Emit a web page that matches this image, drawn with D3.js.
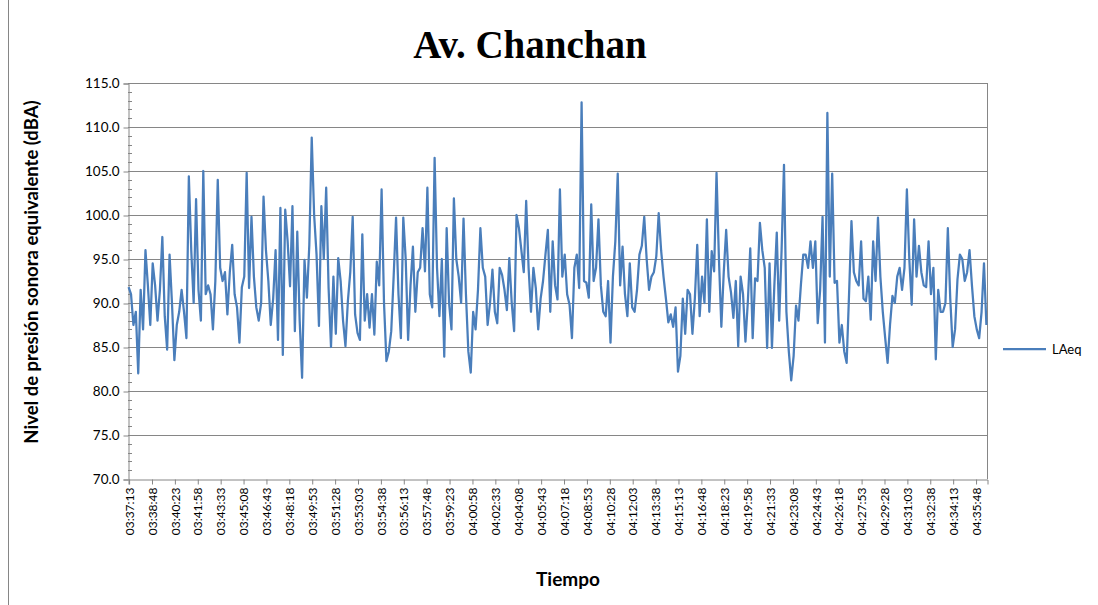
<!DOCTYPE html>
<html><head><meta charset="utf-8">
<script src="https://cdn.jsdelivr.net/npm/d3@7"></script>
<style>body{margin:0;background:#fff;} svg{display:block;}</style>
</head><body>
<svg id="c" width="1098" height="605"></svg>
<script>
const chartTitle = "Av. Chanchan";
const yTitle = "Nivel de presión sonora equivalente (dBA)";
const xTitle = "Tiempo";
const seriesName = "LAeq";
const startTime = "03:37:13";
const stepSeconds = 10;
const laeq = [
91.8,91.0,87.5,89.0,82.0,91.5,87.0,96.0,92.0,87.5,94.5,92.0,88.0,91.5,97.5,88.5,84.7,95.5,90.0,83.5,
87.5,89.0,91.5,89.0,86.0,104.4,96.0,90.0,101.8,91.5,88.0,105.0,91.0,92.0,91.0,87.0,92.5,104.0,94.0,92.5,
93.5,88.7,93.5,96.6,91.0,89.5,85.5,91.8,93.0,104.8,91.7,99.8,93.0,89.5,88.0,90.0,102.1,96.0,92.5,87.5,
90.5,96.0,85.8,100.8,84.1,100.6,97.0,91.9,101.0,86.8,98.1,88.0,81.5,94.9,90.6,96.6,108.8,100.0,95.5,87.4,
101.0,95.0,103.1,91.7,85.0,93.0,86.5,95.1,92.5,88.0,85.1,90.2,93.5,99.8,88.7,86.6,85.8,97.8,88.0,91.0,
87.2,91.0,86.4,94.7,92.0,102.9,90.0,83.4,84.5,86.8,93.0,99.7,91.0,86.0,99.7,95.0,85.8,92.0,96.4,89.0,
93.5,94.0,98.5,93.6,103.1,91.0,89.5,106.5,94.0,88.5,95.0,83.9,98.5,90.0,87.0,101.9,95.0,93.0,90.0,99.6,
91.0,84.5,82.1,89.0,87.0,91.5,98.5,94.0,93.0,87.5,90.0,93.8,89.0,87.7,94.0,93.2,91.5,89.2,95.1,90.0,
86.8,100.0,98.5,96.0,93.5,101.6,94.0,89.0,94.0,91.7,87.0,90.5,92.5,95.5,98.3,89.0,97.0,92.0,90.4,102.9,
93.0,95.5,91.0,89.8,86.0,94.0,95.5,91.7,112.8,92.5,92.3,90.6,101.2,92.5,94.0,99.5,92.0,89.0,88.5,92.5,
85.5,93.0,97.0,104.7,92.0,96.4,91.0,88.5,94.5,89.5,89.0,91.5,95.5,96.5,99.8,95.0,91.5,93.0,93.5,95.3,
100.2,96.0,93.0,90.5,87.8,88.7,87.3,89.5,82.2,84.0,90.5,86.5,91.5,91.0,86.5,90.5,96.6,88.5,93.0,90.0,
99.5,89.0,95.9,93.6,104.8,95.0,87.3,93.5,98.3,93.0,91.2,88.3,92.5,85.1,93.0,91.0,85.6,90.2,96.2,86.0,
92.8,92.5,99.1,96.0,94.0,84.9,94.5,84.9,92.0,98.0,88.0,96.0,105.7,89.0,84.5,81.2,84.0,89.7,88.0,92.0,
95.5,95.5,94.0,97.0,94.0,97.0,87.7,91.5,99.8,85.5,111.6,93.0,104.7,92.3,92.5,85.5,87.5,84.5,83.2,91.0,
99.3,93.5,92.5,92.0,97.0,90.5,90.2,93.0,88.1,97.0,92.5,99.7,93.0,89.0,86.0,83.2,87.5,90.8,90.0,93.0,
94.0,91.5,94.0,102.9,95.0,89.8,99.5,93.0,96.5,93.5,92.0,91.8,97.0,91.0,94.0,83.6,91.5,89.0,89.0,90.0,
98.5,90.5,85.0,87.0,92.7,95.5,95.0,92.5,93.5,96.0,92.0,88.5,87.0,86.0,89.0,94.5,87.5
];
const yTickValues = [70,75,80,85,90,95,100,105,110,115];
const xTickLabels = ["03:37:13","03:38:48","03:40:23","03:41:58","03:43:33","03:45:08","03:46:43","03:48:18",
"03:49:53","03:51:28","03:53:03","03:54:38","03:56:13","03:57:48","03:59:23","04:00:58","04:02:33","04:04:08",
"04:05:43","04:07:18","04:08:53","04:10:28","04:12:03","04:13:38","04:15:13","04:16:48","04:18:23","04:19:58",
"04:21:33","04:23:08","04:24:43","04:26:18","04:27:53","04:29:28","04:31:03","04:32:38","04:34:13","04:35:48"];

const parse = d3.timeParse("%H:%M:%S");
const fmt = d3.timeFormat("%H:%M:%S");
const t0 = parse(startTime);
const data = laeq.map((v,i)=>({t:new Date(t0.getTime()+i*stepSeconds*1000), v}));
const tEnd = data[data.length-1].t;

const L=128, R=987, T=83, B=479;
const svg = d3.select("#c");
const x = d3.scaleTime().domain([new Date(t0.getTime()-2500), new Date(tEnd.getTime()+2500)]).range([L,R]);
const y = d3.scaleLinear().domain([70,115]).range([B,T]);

// chart outer border (left and bottom edges visible)
svg.append("line").attr("x1",8.5).attr("x2",8.5).attr("y1",0).attr("y2",605).attr("stroke","#868686");

// gridlines
svg.append("g").selectAll("line").data(yTickValues.filter(v=>v>70)).join("line")
  .attr("x1",L).attr("x2",R).attr("y1",d=>Math.round(y(d))+0.5).attr("y2",d=>Math.round(y(d))+0.5)
  .attr("stroke","#868686").attr("stroke-width",1);
// plot right border
svg.append("line").attr("x1",R+0.5).attr("x2",R+0.5).attr("y1",T).attr("y2",B).attr("stroke","#868686");

// minor y ticks (inside)
svg.append("g").selectAll("line").data(d3.range(71,115).filter(v=>v%5!==0)).join("line")
  .attr("x1",L).attr("x2",L+4).attr("y1",d=>Math.round(y(d))+0.5).attr("y2",d=>Math.round(y(d))+0.5)
  .attr("stroke","#868686");

// y axis
const yAxis = d3.axisLeft(y).tickValues(yTickValues).tickFormat(d3.format(".1f")).tickSize(5).tickPadding(4);
const gy = svg.append("g").attr("transform",`translate(${L+0.5},0.5)`).call(yAxis);
gy.select(".domain").attr("stroke","#868686");
gy.selectAll(".tick line").attr("stroke","#868686");
gy.selectAll("text").attr("font-family","Lato, 'Open Sans', sans-serif").attr("font-size",13.5).attr("fill","#000");

// x axis
const xAxis = d3.axisBottom(x).tickValues(xTickLabels.map(parse)).tickFormat(fmt).tickSize(5).tickPadding(3);
const gx = svg.append("g").attr("transform",`translate(0.5,${B+0.5})`).call(xAxis);
gx.select(".domain").attr("stroke","#868686");
gx.selectAll(".tick line").attr("stroke","#868686");
gx.selectAll("text").attr("font-family","Lato, 'Open Sans', sans-serif").attr("font-size",12).attr("fill","#000")
  .attr("transform","rotate(-90)").attr("text-anchor","end").attr("dy","0.35em").attr("x",-8).attr("y",0);

// line
svg.append("path").datum(data)
  .attr("d", d3.line().x(d=>x(d.t)).y(d=>y(d.v)))
  .attr("fill","none").attr("stroke","#4A7EBB").attr("stroke-width",2.25).attr("stroke-linejoin","round");

// titles
svg.append("text").attr("x",530).attr("y",58).attr("text-anchor","middle")
  .attr("font-family","'Liberation Serif', serif").attr("font-weight","bold").attr("font-size",39).text(chartTitle);
svg.append("text").attr("transform","translate(38,272) rotate(-90)").attr("text-anchor","middle")
  .attr("font-family","Lato, 'Open Sans', sans-serif").attr("font-weight","bold").attr("font-size",18.5).text(yTitle);
svg.append("text").attr("x",568).attr("y",586).attr("text-anchor","middle")
  .attr("font-family","Lato, 'Open Sans', sans-serif").attr("font-weight","bold").attr("font-size",19).text(xTitle);

// legend
const lg = svg.append("g");
lg.append("line").attr("x1",1003).attr("x2",1046).attr("y1",349).attr("y2",349)
  .attr("stroke","#4A7EBB").attr("stroke-width",2.25);
lg.append("text").attr("x",1052).attr("y",349).attr("dy","0.35em")
  .attr("font-family","Lato, 'Open Sans', sans-serif").attr("font-size",13).text(seriesName);
</script>
</body></html>
